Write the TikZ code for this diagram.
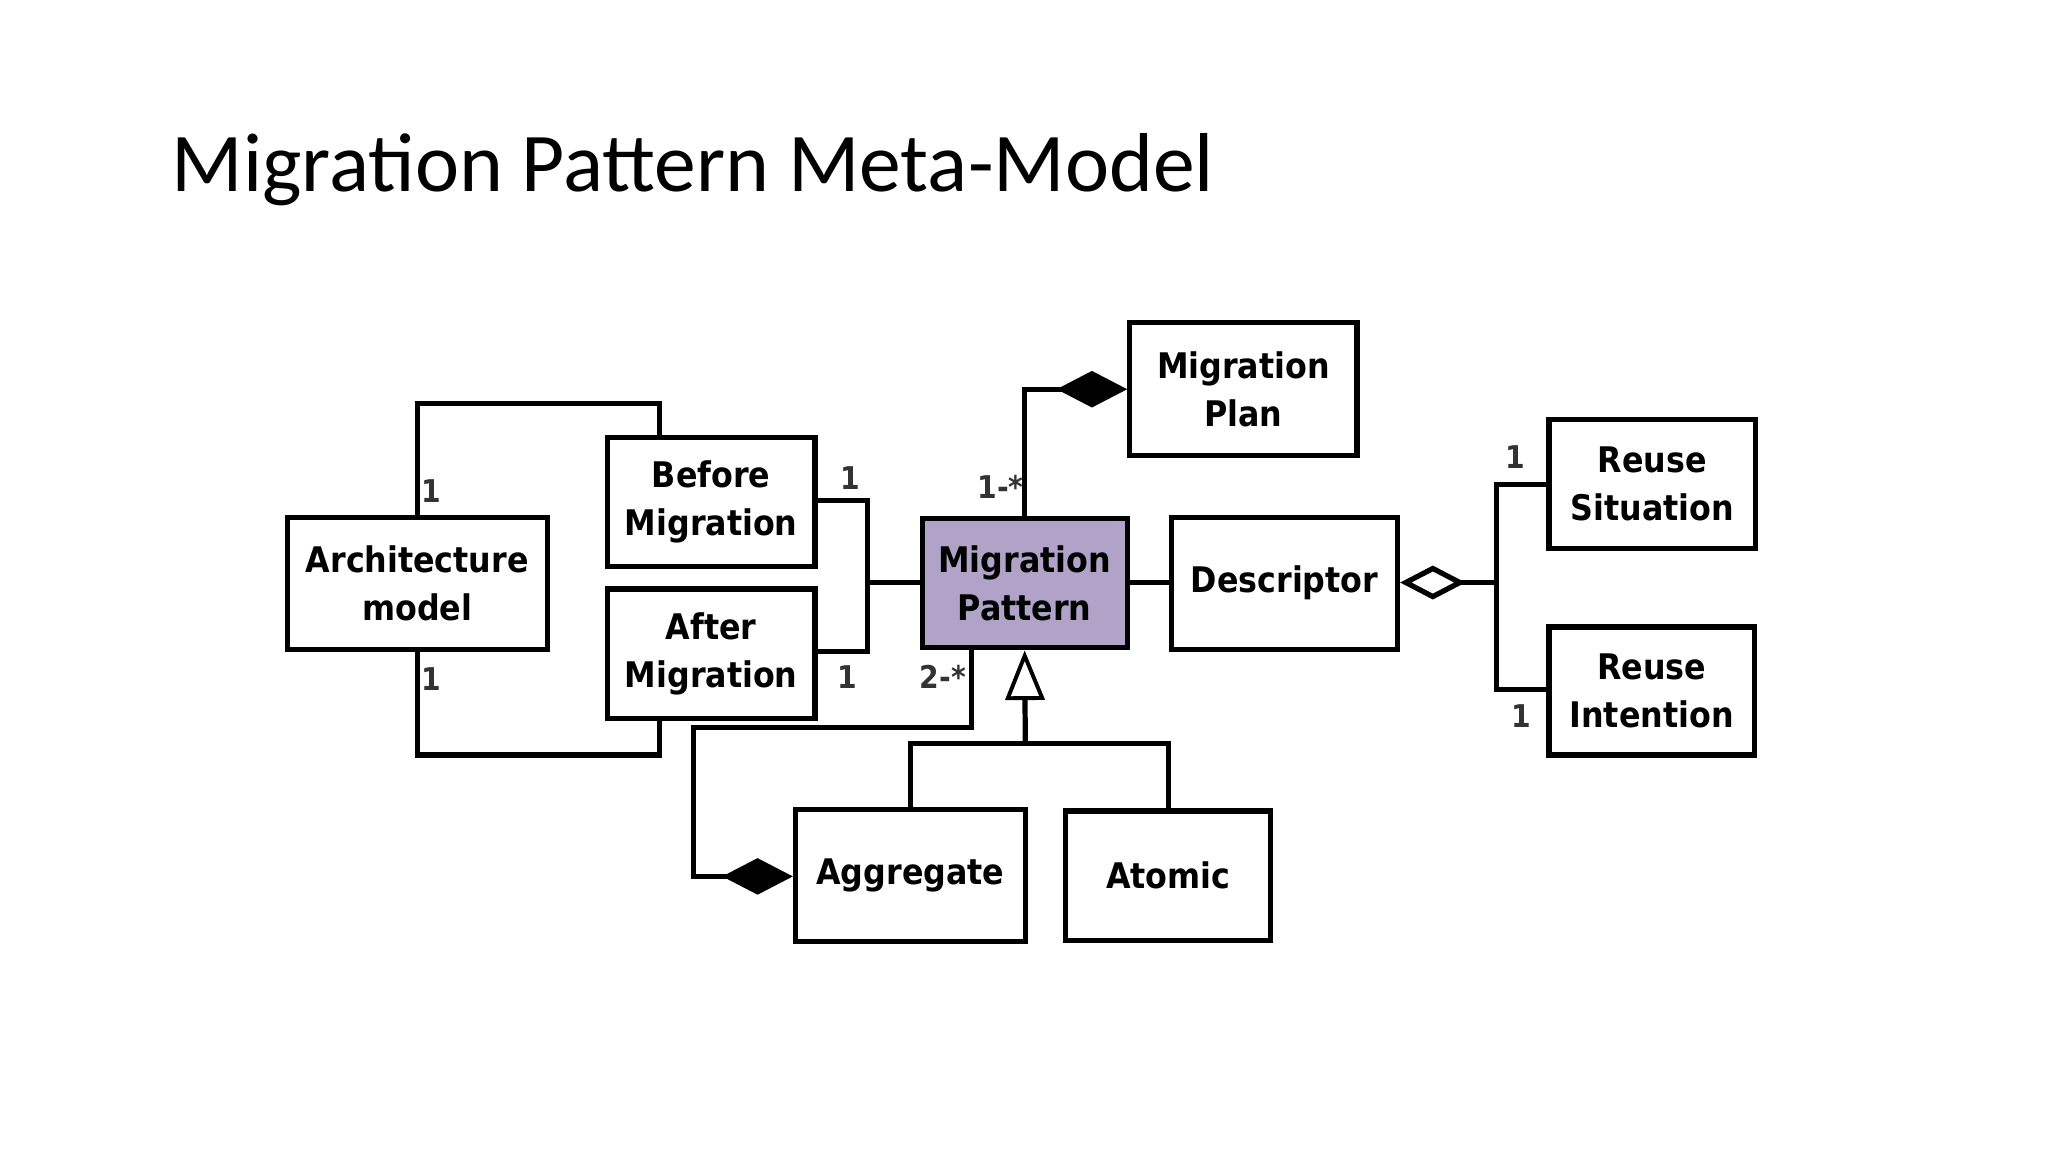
\documentclass[tikz,border=0pt]{standalone}
\usepackage{fontspec}
\setmainfont{DejaVu Sans}
\newfontfamily\titlefont{Carlito}
\newfontfamily\boxfont{DejaVu Sans Condensed}
\usetikzlibrary{arrows.meta}
\definecolor{mp}{HTML}{B1A3C8}
\begin{document}
\begin{tikzpicture}[x=1pt,y=-1pt,
  box/.style={draw,line width=4pt,align=center,inner sep=0pt,font=\boxfont\bfseries\fontsize{27}{37}\selectfont},
  lbl/.style={font=\boxfont\bfseries\fontsize{24}{26}\selectfont,text=black!80},
  conn/.style={line width=4pt},
  comp/.style={conn,-{Diamond[length=54pt,width=28pt,fill=black]}},
  aggr/.style={conn,-{Diamond[open,length=50pt,width=26pt,fill=white]}}]
\useasboundingbox (0,0) rectangle (1568,882);
\node[anchor=west,font=\titlefont\fontsize{64}{70}\selectfont] (title) at (128,130) {Migration Pattern Meta-Model};
\node[box,minimum width=199pt,minimum height=101pt] (arch) at (319.5,446.5) {Architecture\\model};
\node[box,minimum width=159pt,minimum height=99pt] (before) at (544.5,384.5) {Before\\Migration};
\node[box,minimum width=159pt,minimum height=99pt] (after) at (544.5,500.5) {After\\Migration};
\node[box,fill=mp,minimum width=157pt,minimum height=99pt] (mp) at (784.5,446.5) {Migration\\Pattern};
\node[box,minimum width=174pt,minimum height=102pt] (plan) at (952,298) {Migration\\Plan};
\node[box,minimum width=173pt,minimum height=101pt] (desc) at (983.5,446.5) {Descriptor};
\node[box,minimum width=158pt,minimum height=99pt] (sit) at (1265,370.5) {Reuse\\Situation};
\node[box,minimum width=157pt,minimum height=98pt] (int) at (1264.5,529) {Reuse\\Intention};
\node[box,minimum width=176pt,minimum height=101pt] (agg) at (697,670.5) {Aggregate};
\node[box,minimum width=157pt,minimum height=99pt] (atom) at (894.5,670.5) {Atomic};
\coordinate (jba) at (664,446);
\coordinate (jr) at (1146,446);
\coordinate (jg) at (785,569);
% architecture links
\draw[conn] (arch.north) |- (505,309) -- (505,335);
\draw[conn] (arch.south) |- (505,578) -- (505,550);
\node[lbl] (l1) at (330,376) {1};
\node[lbl] (l2) at (330,520) {1};
% before/after
\draw[conn] (before.east |- 0,383) -| (jba) |- (after.east |- 0,499);
\draw[conn] (jba) -- (mp.west |- jba);
\node[lbl] (l3) at (651,366) {1};
\node[lbl] (l4) at (649,518) {1};
% plan
\draw[comp] (mp.north) |- (plan.west |- 0,298);
\node[lbl] (l5) at (766,373) {1-*};
% descriptor
\draw[conn] (mp.east |- 0,446) -- (desc.west |- 0,446);
\draw[aggr] (jr) -- (desc.east |- jr);
\draw[conn] (sit.west |- 0,371) -| (jr) |- (int.west |- 0,528);
\node[lbl] (l6) at (1160,350) {1};
\node[lbl] (l7) at (1165,548) {1};
% generalization
\draw[conn,-{Triangle[open,length=38pt,width=30pt,fill=white,line width=3pt]}] (jg) -- (mp.south);
\draw[conn] (agg.north) |- (jg) -| (atom.north);
% aggregate composition
\draw[comp] (744,496) |- (531,557) |- (agg.west |- 0,671);
\node[lbl] (l8) at (722,518) {2-*};
\end{tikzpicture}
\end{document}
